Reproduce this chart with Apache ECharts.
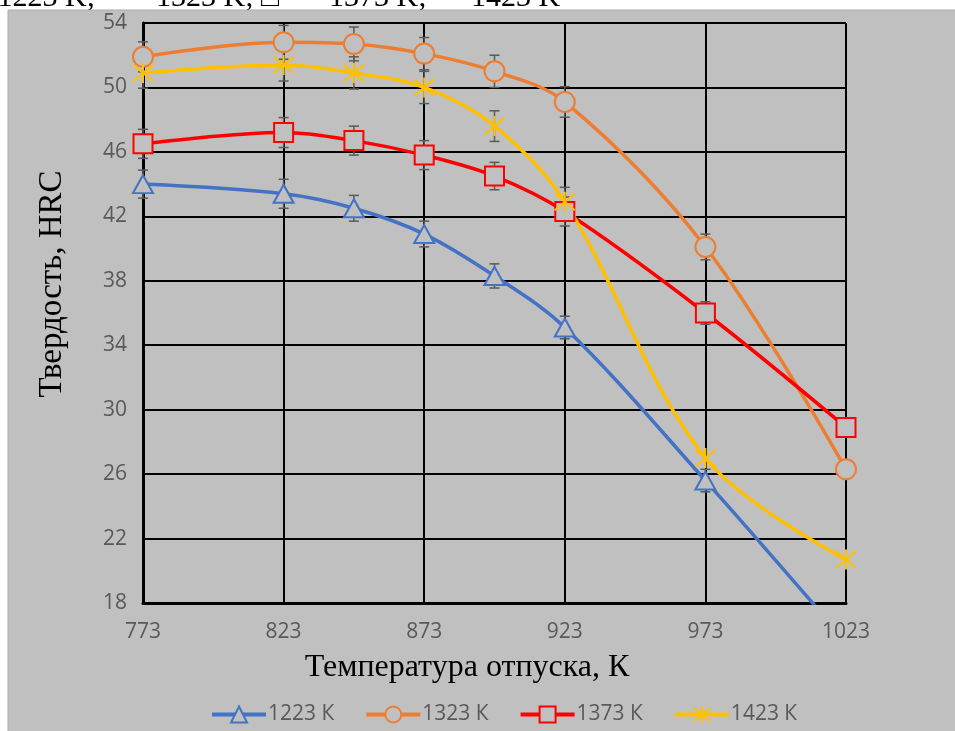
<!DOCTYPE html>
<html>
<head>
<meta charset="utf-8">
<script src="https://cdn.jsdelivr.net/npm/echarts@6/dist/echarts.min.js"></script>
<style>
html,body{margin:0;padding:0;background:#fff;}
#chart{width:955px;height:731px;}
</style>
</head>
<body>
<div id="chart"></div>
<script>
// Data
var temps = [773, 823, 848, 873, 898, 923, 973, 1023];
var seriesNames = ['1223 К', '1323 К', '1373 К', '1423 К'];
var hrc1223 = [44.0, 43.4, 42.5, 40.9, 38.3, 35.1, 25.6, 15.6];
var hrc1323 = [51.9, 52.8, 52.7, 52.1, 51.0, 49.1, 40.1, 26.3];
var hrc1373 = [46.5, 47.2, 46.7, 45.8, 44.5, 42.3, 36.0, 28.9];
var hrc1423 = [50.9, 51.4, 50.9, 50.0, 47.6, 42.9, 27.0, 20.7];
var err1223 = [0.87, 0.9, 0.8, 0.8, 0.75, 0.7, 0.7, 0];
var err1323 = [0.93, 1.05, 1.05, 1.0, 1.0, 0.95, 0.8, 0];
var err1373 = [0.9, 0.93, 0.9, 0.9, 0.85, 0.9, 0.7, 0];
var err1423 = [0.95, 1.0, 1.0, 1.0, 0.95, 0.9, 0, 0];
var xTicks = [773, 823, 873, 923, 973, 1023];
var yTicks = [18, 22, 26, 30, 34, 38, 42, 46, 50, 54];
var captionParts = ['1223 K;', '1323 K; \u25A1', '1373 K;', '1423 K'];
var xTitle = 'Температура отпуска, К';
var yTitle = 'Твердость, HRC';

var colors = ['#4472C4', '#ED7D31', '#FF0000', '#FFC000'];
var symbols = ['triangle', 'circle', 'rect', 'path://M0,0L10,10M10,0L0,10M5,-1L5,11'];
var symbolSizes = [[20, 18], 20, [19, 19], 20];
var values = [hrc1223, hrc1323, hrc1373, hrc1423];
var errors = [err1223, err1323, err1373, err1423];
var bg = '#C0C0C0';

function pairs(vals) {
  return temps.map(function (t, i) { return [t, vals[i]]; });
}

var series = [];
values.forEach(function (vals, k) {
  var errData = temps.map(function (t, i) { return [t, vals[i], errors[k][i]]; })
    .filter(function (d) { return d[2] > 0; });
  series.push({
    type: 'custom',
    name: seriesNames[k] + ' err',
    z: 1,
    silent: true,
    data: errData,
    renderItem: function (params, api) {
      var x = api.value(0), y = api.value(1), e = api.value(2);
      var top = api.coord([x, y + e]);
      var bot = api.coord([x, y - e]);
      var hw = 5;
      var st = { stroke: '#595959', lineWidth: 1.5 };
      return {
        type: 'group',
        children: [
          { type: 'line', shape: { x1: top[0], y1: top[1], x2: bot[0], y2: bot[1] }, style: st },
          { type: 'line', shape: { x1: top[0] - hw, y1: top[1], x2: top[0] + hw, y2: top[1] }, style: st },
          { type: 'line', shape: { x1: bot[0] - hw, y1: bot[1], x2: bot[0] + hw, y2: bot[1] }, style: st }
        ]
      };
    }
  });
});
values.forEach(function (vals, k) {
  var isStar = k === 3;
  series.push({
    type: 'line',
    name: seriesNames[k],
    z: 3,
    data: pairs(vals),
    smooth: 0.35,
    clip: true,
    symbol: symbols[k],
    symbolSize: symbolSizes[k],
    showAllSymbol: true,
    lineStyle: { color: colors[k], width: 3.5 },
    itemStyle: {
      color: isStar ? 'rgba(0,0,0,0)' : bg,
      borderColor: colors[k],
      borderWidth: 2
    },
    emphasis: { disabled: true }
  });
});

var chart = echarts.init(document.getElementById('chart'), null, { renderer: 'canvas' });
chart.setOption({
  animation: false,
  backgroundColor: '#ffffff',
  graphic: [
    { type: 'text', z: -101, x: 95, y: -2, style: { text: captionParts[0], font: '30px "Liberation Serif"', fill: '#000', align: 'right', verticalAlign: 'middle' } },
    { type: 'text', z: -101, x: 156, y: -2, style: { text: captionParts[1], font: '30px "Liberation Serif"', fill: '#000', align: 'left', verticalAlign: 'middle' } },
    { type: 'text', z: -101, x: 329, y: -2, style: { text: captionParts[2], font: '30px "Liberation Serif"', fill: '#000', align: 'left', verticalAlign: 'middle' } },
    { type: 'text', z: -101, x: 471, y: -2, style: { text: captionParts[3], font: '30px "Liberation Serif"', fill: '#000', align: 'left', verticalAlign: 'middle' } },
    { type: 'rect', z: -100, shape: { x: 8, y: 10, width: 960, height: 730 }, style: { fill: bg, stroke: '#ABABAB', lineWidth: 1 } },
    { type: 'text', z: 10, x: 52, y: 284, rotation: Math.PI / 2, style: { text: yTitle, font: '33px "Liberation Serif"', fill: '#000', align: 'center', verticalAlign: 'middle' } },
    { type: 'text', z: 10, x: 467, y: 668, style: { text: xTitle, font: '32px "Liberation Serif"', fill: '#000', align: 'center', verticalAlign: 'middle' } }
  ],
  grid: { left: 143, right: 109, top: 23, bottom: 128, containLabel: false },
  legend: {
    left: 205,
    top: 699,
    itemWidth: 54,
    itemHeight: 20,
    itemGap: 30,
    data: seriesNames,
    lineStyle: { width: 4 },
    textStyle: { color: '#595959', fontSize: 21, fontFamily: 'Open Sans', padding: [0, 0, 0, -3] },
    selectedMode: false
  },
  xAxis: {
    type: 'value',
    min: xTicks[0],
    max: xTicks[xTicks.length - 1],
    interval: 50,
    axisLine: { show: true, onZero: false, lineStyle: { color: '#000', width: 3 } },
    axisTick: { show: false },
    splitLine: { show: true, lineStyle: { color: '#000', width: 2 } },
    axisLabel: { color: '#595959', fontSize: 21, fontFamily: 'Open Sans', margin: 19, formatter: function (v) { return String(v); } }
  },
  yAxis: {
    type: 'value',
    min: yTicks[0],
    max: yTicks[yTicks.length - 1],
    interval: 4,
    axisLine: { show: true, lineStyle: { color: '#000', width: 3 } },
    axisTick: { show: false },
    splitLine: { show: true, lineStyle: { color: '#000', width: 2 } },
    axisLabel: { color: '#595959', fontSize: 21, fontFamily: 'Open Sans', margin: 16, formatter: function (v) { return String(v); } }
  },
  series: series
});
</script>
</body>
</html>
